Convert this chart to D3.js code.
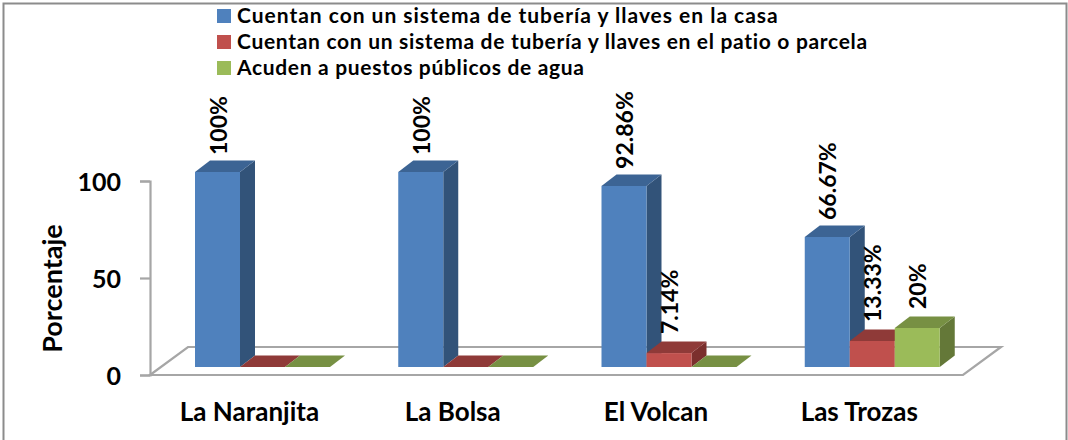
<!DOCTYPE html>
<html><head><meta charset="utf-8">
<script src="https://cdnjs.cloudflare.com/ajax/libs/d3/7.8.5/d3.min.js"></script>
<style>html,body{margin:0;padding:0;background:#fff}svg{display:block}text{font-family:Lato,"Open Sans",sans-serif;fill:#000}</style>
</head><body><svg id="c" width="1068" height="440"></svg>
<script>
const categories = ["La Naranjita","La Bolsa","El Volcan","Las Trozas"];
const seriesNames = ["Cuentan con un sistema de tubería y llaves en la casa","Cuentan con un sistema de tubería y llaves en el patio o parcela","Acuden a puestos públicos de agua"];
const casa = [100,100,92.86,66.67];
const patio = [0,0,7.14,13.33];
const puestos = [0,0,0,20];
const labelsCasa = ["100%","100%","92.86%","66.67%"];
const labelsPatio = ["","","7.14%","13.33%"];
const labelsPuestos = ["","","","20%"];
const yTicks = [0,50,100];
const front = ["#4f81bd","#c0504d","#9bbb59"];
const top3 = ["#3c6494","#8f3a38","#779043"];
const side = ["#325379","#7b2f2d","#647838"];

const svg = d3.select("#c");
const dx = 15, dy = 11.5;
const y = d3.scaleLinear().domain([0,100]).range([375,181]);
const yBar = d3.scaleLinear().domain([0,100]).range([367,172]);
const x = d3.scaleBand().domain(categories).range([150,963]).paddingInner(0).paddingOuter(0);
const groupOffset = 45;
const barW = 45;
const barX = (c,i) => x(c) + groupOffset + i*barW;

// frame
svg.append("path").attr("d","M3.5,440V3.5H1066.5V440").attr("fill","none").attr("stroke","#8c8c8c").attr("stroke-width",2);

// floor and wall
const grey="#a6a6a6";
svg.append("path").attr("d",`M${x.range()[0]},${y(0)}L${x.range()[0]+38},347H${x.range()[1]+38}L${x.range()[1]},${y(0)}Z`)
  .attr("fill","#fff").attr("stroke",grey).attr("stroke-width",2.2).attr("stroke-linejoin","miter");

const axis = d3.axisLeft(y).tickValues(yTicks).tickSize(10).tickPadding(19).tickFormat(d3.format("d"));
const gA = svg.append("g").attr("transform","translate(150,0)").call(axis);
gA.select(".domain").attr("stroke",grey).attr("stroke-width",2.2);
gA.selectAll(".tick line").attr("stroke",grey).attr("stroke-width",2.2);
gA.selectAll(".tick text").style("font-family","Lato").style("font-size","25px").style("font-weight",700).attr("fill","#000").attr("dy","0.36em");

// bars
const series=[casa,patio,puestos], seriesLabels=[labelsCasa,labelsPatio,labelsPuestos];
series.forEach((vals,i)=>{
  const g = svg.append("g");
  vals.forEach((v,k)=>{
    const x0 = barX(categories[k],i), x1 = x0+barW, yt = yBar(v), yb = yBar(0);
    if(v>0){
      g.append("path").attr("d",`M${x1},${yb}V${yt}L${x1+dx},${yt-dy}V${yb-dy}Z`).attr("fill",side[i]);
      g.append("rect").attr("x",x0).attr("y",yt).attr("width",barW).attr("height",yb-yt).attr("fill",front[i]);
    }
    g.append("path").attr("d",`M${x0},${yt}L${x0+dx},${yt-dy}H${x1+dx}L${x1},${yt}Z`).attr("fill",top3[i]);
  });
});
// labels
series.forEach((vals,i)=>{
  vals.forEach((v,k)=>{
    const t = seriesLabels[i][k]; if(!t) return;
    const cx = barX(categories[k],i)+barW/2+1, by = yBar(v)-(v>50?17:19);
    svg.append("text").attr("transform",`translate(${cx},${by}) rotate(-90)`).attr("dy","0.35em")
      .style("font-size","23px").style("font-weight",700).text(t);
  });
});
// category labels
categories.forEach((c,k)=>{
  svg.append("text").attr("x",barX(c,1)+barW/2-13).attr("y",421).attr("text-anchor","middle")
    .style("font-size","26px").style("font-weight",700).text(c);
});
// y title
svg.append("text").attr("transform","translate(62,288.5) rotate(-90)").attr("text-anchor","middle")
  .style("font-size","27px").style("font-weight",700).text("Porcentaje");
// legend
seriesNames.forEach((n,i)=>{
  const yy=9+i*26;
  svg.append("rect").attr("x",217).attr("y",yy).attr("width",14).attr("height",14).attr("fill",front[i]);
  svg.append("text").attr("x",237).attr("y",yy+13.5).style("font-size","21px").style("font-weight",700)
    .style("letter-spacing",[0.98,0.69,0.67][i]+"px").text(n);
});
</script></body></html>
